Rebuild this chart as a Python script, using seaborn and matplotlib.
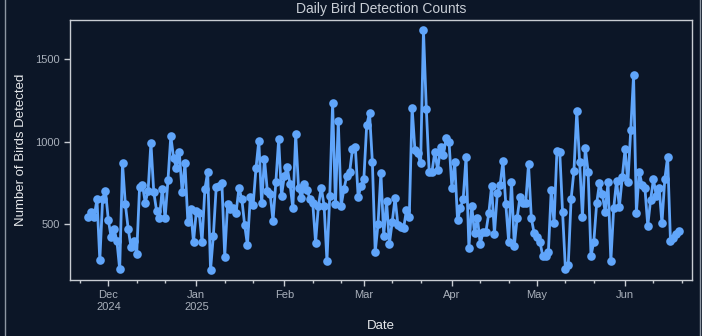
import matplotlib
matplotlib.use("Agg")
import matplotlib.pyplot as plt
import matplotlib.dates as mdates
from matplotlib.patches import Rectangle
import pandas as pd
import seaborn as sns

# ---- data -------------------------------------------------------------
start_date = "2024-11-24"
bird_counts = [
    540, 575, 545, 650, 280, 655, 700, 525, 420, 470,
    400, 225, 868, 620, 470, 360, 400, 320, 725, 740,
    630, 700, 995, 695, 580, 535, 715, 535, 765, 1035,
    900, 840, 935, 695, 868, 514, 590, 389, 580, 570,
    389, 712, 817, 221, 430, 725, 729, 749, 302, 620,
    590, 600, 570, 717, 655, 496, 372, 664, 614, 838,
    1006, 625, 898, 702, 683, 518, 753, 1016, 672, 793,
    844, 743, 595, 1046, 722, 656, 743, 709, 652, 628,
    387, 612, 722, 612, 275, 672, 1236, 622, 1127, 612,
    713, 793, 817, 955, 969, 662, 733, 773, 1101, 1176,
    878, 328, 500, 813, 430, 640, 380, 514, 660, 494,
    484, 474, 585, 540, 1208, 949, 929, 868, 1678, 1202,
    818, 818, 939, 828, 970, 919, 1024, 1000, 722, 878,
    524, 595, 655, 909, 356, 611, 443, 539, 378, 453,
    453, 565, 730, 440, 686, 737, 883, 620, 393, 757,
    368, 538, 666, 625, 629, 863, 535, 443, 423, 393,
    308, 308, 332, 706, 504, 944, 939, 571, 225, 251,
    651, 823, 1186, 878, 540, 964, 817, 306, 393, 625,
    750, 680, 575, 753, 275, 595, 763, 605, 783, 955,
    753, 1070, 1404, 569, 817, 737, 720, 490, 646, 773,
    672, 722, 504, 773, 909, 397, 417, 440, 458,
]
month_ticks = ["2024-12-01", "2025-01-01", "2025-02-01", "2025-03-01",
               "2025-04-01", "2025-05-01", "2025-06-01"]
month_labels = ["Dec\n2024", "Jan\n2025", "Feb", "Mar", "Apr", "May", "Jun"]
y_ticks = [500, 1000, 1500]

dates = pd.date_range(start_date, periods=len(bird_counts), freq="D")
df = pd.DataFrame({"Date": dates, "Birds": bird_counts})

# ---- style ------------------------------------------------------------
BG = "#0c1627"
LINE = "#60a5fa"
SPINE = "#c8ccd2"
TICKLABEL = "#a9b0bb"
LABEL = "#e6e8eb"

sns.set_theme(style="dark")
plt.rcParams["font.family"] = ["Liberation Sans", "DejaVu Sans"]

fig = plt.figure(figsize=(7.02, 3.36), dpi=100, facecolor=BG)
ax = fig.add_axes([70 / 702, 1 - 280 / 336, 622 / 702, 260 / 336])
ax.set_facecolor(BG)

sns.lineplot(data=df, x="Date", y="Birds", ax=ax, color=LINE,
             linewidth=2, marker="o", markersize=6.2,
             markeredgewidth=0, markeredgecolor=LINE)

ax.set_xlim(pd.Timestamp("2024-11-17 12:00"), pd.Timestamp("2025-06-24 14:00"))
ax.set_ylim(160, 1740)

ax.set_xticks(pd.to_datetime(month_ticks))
ax.set_xticklabels(month_labels)
ax.xaxis.set_minor_locator(mdates.DayLocator(bymonthday=[11, 21]))
ax.set_yticks(y_ticks)

ax.grid(False)
for side in ["left", "right", "top", "bottom"]:
    ax.spines[side].set_visible(True)
    ax.spines[side].set_color(SPINE)
    ax.spines[side].set_linewidth(1)

ax.tick_params(axis="both", which="major", length=4, width=1, color=SPINE,
               labelcolor=TICKLABEL, labelsize=8, bottom=True, left=True)
ax.tick_params(axis="x", which="minor", length=2.5, width=1, color=SPINE,
               bottom=True)

ax.set_title("Daily Bird Detection Counts", color="#c9ced6", fontsize=10, pad=5)
ax.set_xlabel("Date", color=LABEL, fontsize=9.5, labelpad=6)
ax.set_ylabel("Number of Birds Detected", color=LABEL, fontsize=9.5, labelpad=6)

# thin frame around the figure
fig.add_artist(Rectangle((5 / 702, -0.05), 695 / 702, 1.1,
                         transform=fig.transFigure, fill=False,
                         edgecolor="#8d96a2", linewidth=1))

fig.savefig("out.png", dpi=100, facecolor=BG)
